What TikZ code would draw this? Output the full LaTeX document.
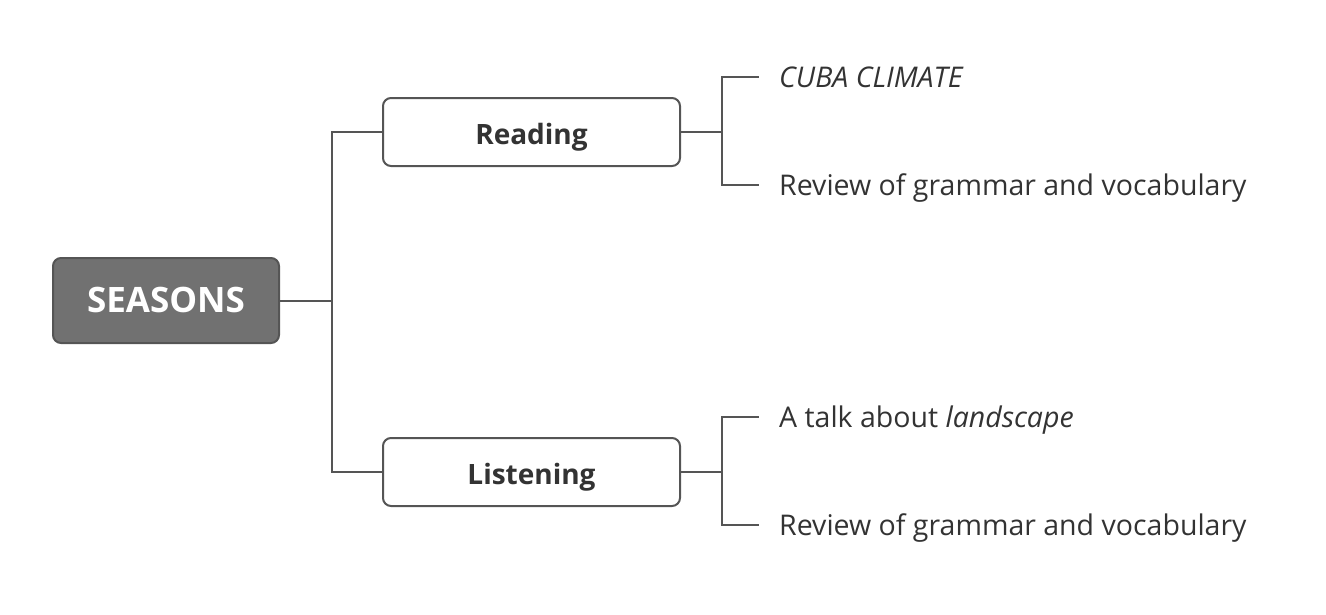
\documentclass[tikz,border=0pt]{standalone}
\usepackage{fontspec}
\setmainfont{Open Sans}
\usepackage{tikz}
\usetikzlibrary{positioning}

\definecolor{linegray}{HTML}{555555}
\definecolor{rootgray}{HTML}{717171}
\definecolor{textgray}{HTML}{333333}

\tikzset{
  root/.style={draw=linegray, fill=rootgray, rounded corners=8pt, line width=2pt,
    minimum width=226pt, minimum height=85pt, text height=24.4pt, text depth=0pt,
    text=white, font=\fontsize{35}{40}\selectfont\bfseries},
  topic/.style={draw=linegray, fill=white, rounded corners=8pt, line width=2pt,
    minimum width=297pt, minimum height=68pt, text height=24pt, text depth=0pt,
    text=textgray, font=\fontsize{28}{32}\selectfont\bfseries},
  leaf/.style={anchor=west, inner xsep=20pt, text height=20.5pt, text depth=0pt,
    text=textgray, font=\fontsize{28.5}{33}\selectfont},
  branch/.style={draw=linegray, line width=2pt}
}

\begin{document}
\begin{tikzpicture}
	[x=1pt, y=-1pt, on grid]
   \useasboundingbox (0,0) rectangle (1326,614);
   \node[root] (seasons) at (166,300.5) {SEASONS};
   \node[topic] (reading) [above right=168.5pt and 365.5pt of seasons] {Reading};
   \node[topic] (listening) [below right=171.5pt and 365.5pt of seasons] {Listening};
   \node[leaf] (cuba)   at (759,77)  {\itshape CUBA CLIMATE};
   \node[leaf] (review1) at (759,185) {Review of grammar and vocabulary};
   \node[leaf] (talk)   at (759,417) {A talk about \textit{landscape}};
   \node[leaf] (review2) at (759,525) {Review of grammar and vocabulary};
    \path[branch]
    (seasons.east) -- ++(52,0) |- (reading.west)
    (seasons.east) -- ++(52,0) |- (listening.west)
    (reading.east) -- ++(41,0) |- (cuba.west)
    (reading.east) -- ++(41,0) |- (review1.west)
    (listening.east) -- ++(41,0) |- (talk.west)
    (listening.east) -- ++(41,0) |- (review2.west);
\end{tikzpicture}
\end{document}
